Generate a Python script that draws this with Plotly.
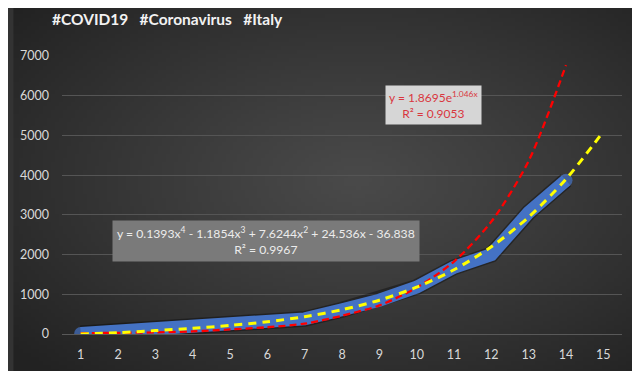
import base64
import struct
import zlib

import numpy as np
import plotly.graph_objects as go

# ---------------- data ----------------
days = list(range(1, 15))
cases = [10, 60, 115, 175, 240, 310, 380, 610, 850, 1180, 1680, 2000, 3060, 3870]

exp_days = list(range(1, 15))
exp_trend = [22, 28, 40, 65, 115, 170, 260, 460, 720, 1170, 1825, 2830, 4360, 6770]

poly_days = list(range(1, 16))
poly_trend = [0, 35, 85, 143, 215, 309, 436, 611, 851, 1179, 1617, 2196, 2945, 3900, 5098]

x_ticks = list(range(1, 16))
y_ticks = [0, 1000, 2000, 3000, 4000, 5000, 6000, 7000]

title_text = "#COVID19\u00a0\u00a0\u00a0#Coronavirus\u00a0\u00a0\u00a0#Italy"
exp_label = "y = 1.8695e<sup>1.046x</sup><br>R² = 0.9053"
poly_label = ("y = 0.1393x<sup>4</sup> - 1.1854x<sup>3</sup> + 7.6244x<sup>2</sup>"
              " + 24.536x - 36.838<br>R² = 0.9967")

# ---------------- layout geometry ----------------
# the page shows the figure offset by the body margin; compensate for it
OFF = 8
W, H = 640, 371
# wanted plot area in screen pixels: x 57..622, y 56..334
SX0, SX1, SY0, SY1 = 57, 622, 56, 334
ML, MT = SX0 - OFF, SY0 - OFF
MR, MB = W - (SX1 - OFF), H - (SY1 - OFF)
PW, PH = W - ML - MR, H - MT - MB


def px_x(px):
    return (px - OFF - ML) / PW


def px_y(py):
    return (H - MB - (py - OFF)) / PH


# ---------------- radial background gradient as small PNG ----------------
def make_png(arr):
    h, w, _ = arr.shape
    raw = b"".join(b"\x00" + arr[i].tobytes() for i in range(h))

    def chunk(tag, data):
        c = struct.pack(">I", len(data)) + tag + data
        return c + struct.pack(">I", zlib.crc32(tag + data) & 0xFFFFFFFF)

    sig = b"\x89PNG\r\n\x1a\n"
    ihdr = struct.pack(">IIBBBBB", w, h, 8, 2, 0, 0, 0)
    return sig + chunk(b"IHDR", ihdr) + chunk(b"IDAT", zlib.compress(raw, 9)) + chunk(b"IEND", b"")


gw, gh = 160, 93
yy, xx = np.mgrid[0:gh, 0:gw]
cx, cy = 0.54 * gw, 0.46 * gh
d = np.sqrt(((xx - cx) / gw) ** 2 + ((yy - cy) / gh) ** 2) / 0.72
d = np.clip(d, 0, 1) ** 1.1
c_in, c_out = 74.0, 34.0
val = (c_in + (c_out - c_in) * d).astype(np.uint8)
img = np.stack([val, val, val], axis=-1)
bg_src = "data:image/png;base64," + base64.b64encode(make_png(img)).decode()

# ---------------- figure ----------------
fig = go.Figure()

# blue data series (thick line with round ends)
fig.add_trace(go.Scatter(
    x=days, y=cases, mode="lines",
    line=dict(color="rgba(0,0,0,0.35)", width=16),
    hoverinfo="skip", showlegend=False,
))
end_sizes = [13 if i in (0, len(days) - 1) else 0 for i in range(len(days))]
fig.add_trace(go.Scatter(
    x=days, y=cases, mode="lines+markers",
    line=dict(color="#4472C4", width=13),
    marker=dict(size=end_sizes, color="#4472C4", line=dict(width=0)),
    showlegend=False,
))

# exponential trendline (red dashed)
fig.add_trace(go.Scatter(
    x=exp_days, y=exp_trend, mode="lines",
    line=dict(color="#FF0000", width=2.3, dash="7px,4px", shape="spline", smoothing=0.8),
    showlegend=False,
))

# polynomial trendline (yellow dashed)
fig.add_trace(go.Scatter(
    x=poly_days, y=poly_trend, mode="lines",
    line=dict(color="#FFFF00", width=3, dash="8px,6px", shape="spline", smoothing=0.8),
    showlegend=False,
))

font_family = "Lato, 'Open Sans', sans-serif"

fig.update_layout(
    width=W, height=H,
    margin=dict(l=ML, r=MR, t=MT, b=MB, pad=0),
    paper_bgcolor="#333333",
    plot_bgcolor="rgba(0,0,0,0)",
    font=dict(family=font_family, color="#d9d9d9", size=12),
    title=dict(
        text=title_text, x=(52 - OFF) / W, xanchor="left", xref="container",
        y=1 - (19.5 - OFF) / H, yanchor="middle",
        font=dict(family=font_family, size=15.5, color="#f2f2f2", weight="bold"),
    ),
    xaxis=dict(
        range=[0.5, 15.5], tickvals=x_ticks, ticktext=[str(v) for v in x_ticks],
        showgrid=False, zeroline=False, showline=True, linecolor="#595959", linewidth=1,
        ticks="", ticklabelstandoff=9, fixedrange=True,
        tickfont=dict(family=font_family, size=12.5, color="#d9d9d9"),
    ),
    yaxis=dict(
        range=[0, 7000], tickvals=y_ticks, ticktext=[str(v) for v in y_ticks],
        showgrid=True, gridcolor="#555555", gridwidth=1, zeroline=False, showline=False,
        ticks="", ticklabelstandoff=12, fixedrange=True,
        tickfont=dict(family=font_family, size=12.5, color="#d9d9d9"),
    ),
    images=[dict(
        source=bg_src, xref="paper", yref="paper",
        x=-ML / PW, y=1 + MT / PH, sizex=W / PW, sizey=H / PH,
        xanchor="left", yanchor="top", sizing="stretch", layer="below",
    )],
    annotations=[
        dict(
            text=exp_label, xref="paper", yref="paper",
            x=px_x(432), y=px_y(105), xanchor="center", yanchor="middle",
            showarrow=False, align="center",
            bgcolor="#d6d6d6", borderpad=3,
            font=dict(family=font_family, size=12, color="#d9363e"),
        ),
        dict(
            text=poly_label, xref="paper", yref="paper",
            x=px_x(263), y=px_y(240.5), xanchor="center", yanchor="middle",
            showarrow=False, align="center",
            bgcolor="#7a7a7a", borderpad=4,
            font=dict(family=font_family, size=12.2, color="#ececec"),
        ),
    ],
)

fig.write_html("out.html")
